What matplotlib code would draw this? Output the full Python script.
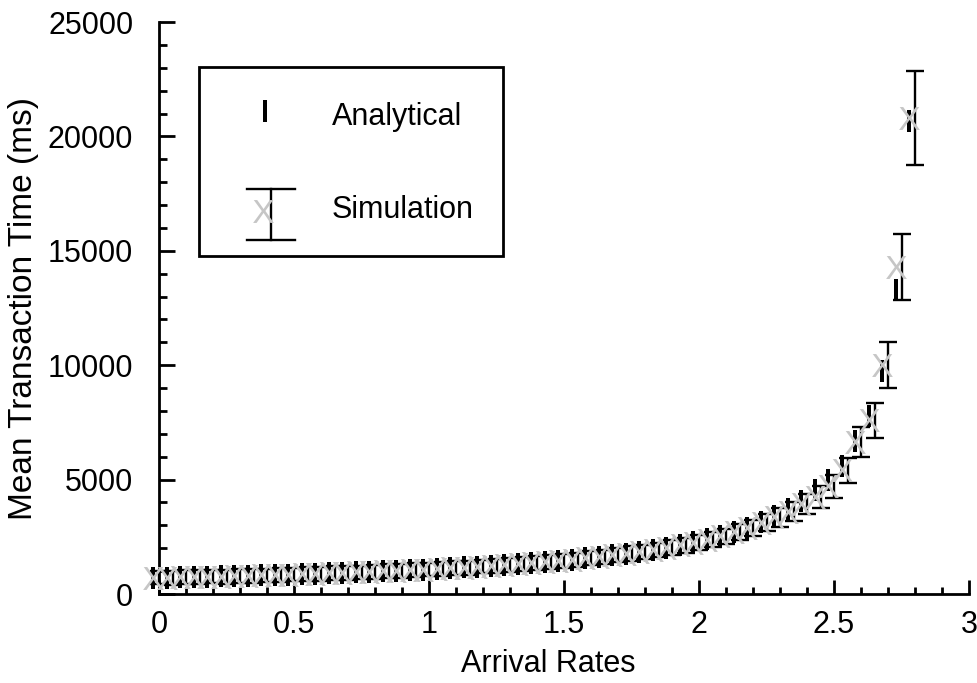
import numpy as np
import matplotlib
matplotlib.use('Agg')
import matplotlib.pyplot as plt
from matplotlib.textpath import TextPath
from matplotlib.font_manager import FontProperties
from matplotlib.path import Path
from matplotlib.lines import Line2D
from matplotlib.legend_handler import HandlerBase
from matplotlib.transforms import ScaledTranslation
from matplotlib.ticker import MultipleLocator, FixedLocator, FixedFormatter

plt.rcParams['font.family'] = ['Liberation Sans', 'DejaVu Sans']

# ---------------- data ----------------
arrival = [0.00, 0.05, 0.10, 0.15, 0.20, 0.25, 0.30, 0.35, 0.40, 0.45,
           0.50, 0.55, 0.60, 0.65, 0.70, 0.75, 0.80, 0.85, 0.90, 0.95,
           1.00, 1.05, 1.10, 1.15, 1.20, 1.25, 1.30, 1.35, 1.40, 1.45,
           1.50, 1.55, 1.60, 1.65, 1.70, 1.75, 1.80, 1.85, 1.90, 1.95,
           2.00, 2.05, 2.10, 2.15, 2.20, 2.25, 2.30, 2.35, 2.40, 2.45,
           2.50, 2.55, 2.60, 2.65, 2.70, 2.75, 2.80]

analytical = [700, 712, 725, 738, 752, 766, 781, 796, 812, 829,
              846, 864, 882, 902, 923, 944, 967, 990, 1015, 1041,
              1069, 1098, 1129, 1162, 1196, 1233, 1272, 1313, 1357, 1403,
              1451, 1505, 1563, 1626, 1693, 1767, 1847, 1935, 2032, 2140,
              2260, 2394, 2543, 2714, 2905, 3130, 3390, 3700, 4075, 4530,
              5000, 5600, 6700, 7800, 9750, 13300, 20670]

simulation = [720, 700, 735, 730, 760, 755, 790, 780, 820, 815,
              850, 860, 880, 905, 920, 940, 960, 995, 1010, 1045,
              1070, 1090, 1130, 1150, 1200, 1230, 1270, 1310, 1350, 1400,
              1450, 1500, 1560, 1610, 1690, 1760, 1840, 1930, 2030, 2130,
              2250, 2380, 2520, 2700, 2880, 3120, 3350, 3600, 3950, 4250,
              4700, 5400, 6650, 7600, 10000, 14300, 20800]

sim_err = [300, 290, 300, 310, 290, 300, 310, 300, 290, 310,
           300, 300, 310, 300, 290, 300, 310, 300, 300, 310,
           300, 290, 310, 300, 300, 310, 300, 310, 300, 310,
           300, 310, 300, 320, 310, 320, 310, 320, 330, 320,
           330, 340, 330, 350, 360, 380, 400, 420, 440, 470,
           500, 550, 660, 760, 1000, 1450, 2050]

x_ticks = [0, 0.5, 1, 1.5, 2, 2.5, 3]
x_tick_labels = ['0', '0.5', '1', '1.5', '2', '2.5', '3']
series_labels = ['Analytical', 'Simulation']

# ---------------- style ----------------
DPI = 100
FS = 22
YFS = 24
GRAY = '#c6c6c6'
P = 72.0 / DPI  # points per pixel


def glyph_marker(ch):
    tp = TextPath((0, 0), ch, size=10, prop=FontProperties(family='Liberation Sans'))
    v = np.array(tp.vertices, dtype=float).copy()
    codes = tp.codes
    ext = tp.get_extents()
    v[:, 0] -= (ext.x0 + ext.x1) / 2
    v[:, 1] -= (ext.y0 + ext.y1) / 2
    if codes is not None:
        v[codes == Path.CLOSEPOLY] = 0
    return Path(v, codes)


X_MARK = glyph_marker('X')
I_MARK = glyph_marker('I')

fig = plt.figure(figsize=(9.77, 6.83), dpi=DPI)
ax = fig.add_axes([159 / 977, 1 - 594 / 683, 810 / 977, 572 / 683])

shift = ax.transData + ScaledTranslation(-6 / DPI, 0, fig.dpi_scale_trans)

ax.errorbar(arrival, simulation, yerr=sim_err, fmt='none', ecolor='black',
            elinewidth=1.7, capsize=6.5, capthick=1.7, zorder=2, clip_on=False)
ana_line, = ax.plot(arrival, analytical, ls='none', marker=I_MARK, ms=16.5,
                    mfc='black', mec='black', mew=0, transform=shift,
                    zorder=3, clip_on=False)
ax.plot(arrival, simulation, ls='none', marker=X_MARK, ms=16.5,
        mfc=GRAY, mec=GRAY, mew=0, transform=shift, zorder=4, clip_on=False)

ax.set_xlim(0, 3)
ax.set_ylim(0, 25000)
ax.xaxis.set_major_locator(FixedLocator(x_ticks))
ax.xaxis.set_major_formatter(FixedFormatter(x_tick_labels))
ax.xaxis.set_minor_locator(MultipleLocator(0.1))
ax.yaxis.set_major_locator(MultipleLocator(5000))
ax.yaxis.set_minor_locator(MultipleLocator(1000))

for s in ['top', 'right']:
    ax.spines[s].set_visible(False)
for s in ['left', 'bottom']:
    ax.spines[s].set_linewidth(2)

ax.tick_params(which='both', direction='in', width=2, labelsize=FS, colors='black')
ax.tick_params(axis='x', which='major', length=10, pad=11.5)
ax.tick_params(axis='x', which='minor', length=5)
ax.tick_params(axis='y', which='major', length=11.5, pad=18.5)
ax.tick_params(axis='y', which='minor', length=5.5)

ax.set_xlabel('Arrival Rates', fontsize=FS)
ax.set_ylabel('Mean Transaction Time (ms)', fontsize=YFS)
ax.xaxis.set_label_coords(0.48, -0.096)
ax.yaxis.set_label_coords(-0.148, 0.5)


class SimProxy:
    pass


class SimHandler(HandlerBase):
    def create_artists(self, legend, orig_handle, xdescent, ydescent,
                       width, height, fontsize, trans):
        cx = 0.5 * width - xdescent
        cy = 0.5 * height - ydescent
        ex = cx + 6 * P
        ey = cy - 6 * P
        hh = 25.5 * P
        hw = 24 * P
        arts = [
            Line2D([ex, ex], [ey - hh, ey + hh], color='black', lw=1.7),
            Line2D([ex - hw, ex + hw], [ey + hh, ey + hh], color='black', lw=1.7),
            Line2D([ex - hw, ex + hw], [ey - hh, ey - hh], color='black', lw=1.7),
            Line2D([cx - 2 * P], [cy - 3 * P], ls='none', marker=X_MARK, ms=16.5,
                   mfc=GRAY, mec=GRAY, mew=0),
        ]
        for a in arts:
            a.set_transform(trans)
        return arts


leg = ax.legend(handles=[ana_line, SimProxy()], labels=series_labels,
                handler_map={SimProxy: SimHandler()},
                loc='upper left', bbox_to_anchor=(0.0494, 0.9213),
                borderaxespad=0, fontsize=FS, frameon=True, fancybox=False,
                edgecolor='black', framealpha=1, borderpad=0.96,
                handlelength=2.42, handletextpad=0.97, handleheight=1.51,
                labelspacing=1.82, numpoints=1)
leg.get_frame().set_linewidth(2)

fig.savefig('out.png', dpi=DPI)
